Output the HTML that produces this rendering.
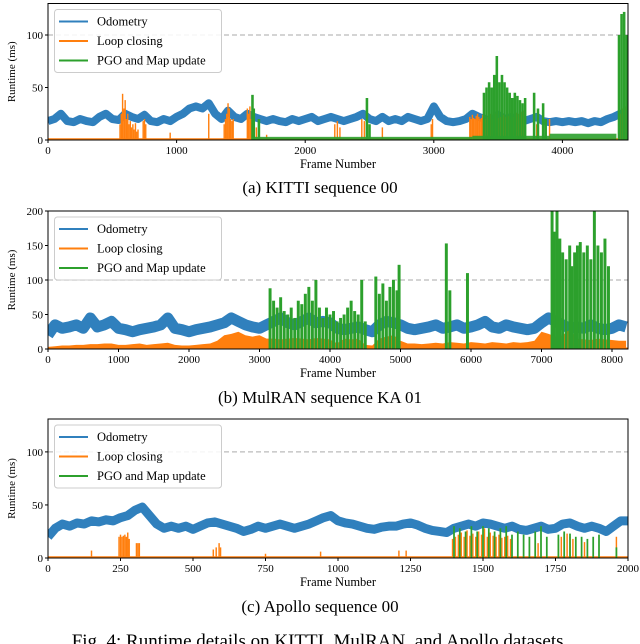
<!DOCTYPE html>
<html><head><meta charset="utf-8">
<style>
body{margin:0;background:#fff;width:640px;height:644px;overflow:hidden}
svg{display:block;font-family:"Liberation Serif",serif}
</style></head>
<body>
<svg id="fig" width="640" height="644" viewBox="0 0 640 644" xmlns="http://www.w3.org/2000/svg">
<text x="320" y="193" font-size="17" text-anchor="middle">(a) KITTI sequence 00</text>
<text x="320" y="403" font-size="17" text-anchor="middle">(b) MulRAN sequence KA 01</text>
<text x="320" y="612" font-size="17" text-anchor="middle">(c) Apollo sequence 00</text>
<text x="320" y="647" font-size="19" text-anchor="middle">Fig. 4: Runtime details on KITTI, MulRAN, and Apollo datasets.</text>
</svg>
<script>
// ---- KITTI data ----
const kittiOdoFrames = [0,50,100,150,200,250,300,350,400,450,500,550,600,650,700,750,800,850,900,950,1000,1050,1100,1150,1200,1250,1300,1350,1400,1450,1500,1550,1600,1650,1700,1750,1800,1850,1900,1950,2000,2050,2100,2150,2200,2250,2300,2350,2400,2450,2500,2550,2600,2650,2700,2750,2800,2850,2900,2950,3000,3050,3100,3150,3200,3250,3300,3350,3400,3450,3500,3550,3600,3650,3700,3750,3800,3850,3900,3950,4000,4050,4100,4150,4200,4250,4300,4350,4400,4450,4500];
const kittiOdoValues = [18,20,25,18,17,20,18,17,22,25,20,19,25,22,20,24,18,17,20,18,22,25,30,32,30,35,25,20,28,22,20,25,22,20,18,20,18,17,20,18,20,22,18,20,22,20,18,20,22,25,20,18,22,18,20,18,22,20,18,20,32,22,18,17,18,20,25,22,20,18,24,20,22,20,18,20,22,18,17,18,17,18,17,18,16,18,17,20,22,25,22];
const kittiLoopFrames = [560,570,580,590,600,610,620,630,640,650,660,670,680,690,700,740,750,760,950,1250,1370,1380,1390,1400,1410,1420,1430,1440,1550,1560,1570,1580,1600,1620,1640,1700,2230,2250,2270,2440,2460,2600,2980,2990,3280,3290,3300,3310,3320,3330,3340,3350,3360,3370,3380,3390,3400,3410,3420,3430,3440,3450,3460,3470,3480,3490,3500,3510,3520,3530,3540,3550,3560,3570,3580,3590,3600,3610,3620,3630,3640,3650,3660,3670,3680,3690,3700,3780,3800,3900,4450,4460,4470,4480,4490,4500,4510,4520,4530];
const kittiLoopValues = [15,25,44,30,38,20,25,15,18,12,15,10,16,8,10,18,20,15,7,25,15,20,25,35,30,20,18,20,30,25,32,20,15,12,12,5,15,18,12,20,18,12,15,20,22,20,24,21,20,23,25,22,20,21,24,22,20,26,22,21,25,23,20,22,25,24,21,23,22,20,24,26,22,21,23,25,20,24,22,21,26,23,25,22,27,24,28,20,15,20,25,28,30,32,32,30,31,28,25];
const kittiPgoFrames = [1590,1600,1640,2480,2500,3390,3410,3430,3450,3470,3490,3510,3530,3550,3570,3590,3610,3630,3650,3670,3690,3710,3780,3810,3850,3870,4440,4460,4480,4500,4520,4540,4550];
const kittiPgoValues = [43,30,20,40,15,45,50,55,50,62,80,55,62,55,50,45,40,45,42,38,35,40,45,30,35,20,100,120,122,100,70,75,50];
const kittiFloorFrames = [1600,3300,3900,4420];
const kittiFloorValues = [3,4,6,0];
const kittiXTicks = [0,1000,2000,3000,4000];
const kittiYTicks = [0,50,100];

// ---- MulRAN data ----
const mulranOdoFrames = [0,100,200,300,400,500,600,700,800,900,1000,1100,1200,1300,1400,1500,1600,1700,1800,1900,2000,2100,2200,2300,2400,2500,2600,2700,2800,2900,3000,3100,3200,3300,3400,3500,3600,3700,3800,3900,4000,4100,4200,4300,4400,4500,4600,4700,4800,4900,5000,5100,5200,5300,5400,5500,5600,5700,5800,5900,6000,6100,6200,6300,6400,6500,6600,6700,6800,6900,7000,7100,7200,7300,7400,7500,7600,7700,7800,7900,8000,8100,8200];
const mulranOdoValues = [20,35,30,32,35,30,45,32,35,40,30,28,25,28,30,32,35,45,30,28,25,28,30,32,35,38,45,40,35,32,30,35,40,45,38,35,40,45,38,40,38,30,28,30,32,28,25,35,40,38,35,30,28,30,32,35,30,32,35,30,32,35,40,32,30,35,32,30,28,30,38,45,40,35,30,32,30,35,30,28,30,35,32];
const mulranLoopFrames = mulranOdoFrames;
const mulranLoopValues = [3,4,5,5,6,6,7,7,8,8,6,6,7,8,6,7,8,9,6,5,5,6,7,8,12,20,22,25,20,18,20,15,15,14,15,16,15,14,16,15,14,8,15,14,15,6,5,15,18,20,12,8,8,7,8,9,8,10,9,8,10,9,8,10,9,8,10,9,10,12,25,22,18,20,28,15,14,13,15,14,13,12,12];
const mulranPgoFrames = [3150,3200,3250,3300,3350,3400,3450,3500,3550,3600,3650,3700,3750,3800,3850,3900,3950,4000,4050,4100,4150,4200,4250,4300,4350,4400,4450,4500,4650,4700,4750,4800,4850,4900,4950,4980,5650,5700,5950,7150,7180,7220,7260,7300,7350,7400,7430,7470,7510,7550,7600,7650,7700,7750,7800,7850,7900,7950];
const mulranPgoValues = [88,70,60,75,55,50,60,45,70,65,80,90,70,100,60,45,60,50,55,40,45,50,60,70,55,50,100,40,105,80,95,70,90,100,85,122,153,85,110,200,170,200,160,140,130,150,120,140,150,155,140,150,130,200,150,140,160,120];
const mulranXTicks = [0,1000,2000,3000,4000,5000,6000,7000,8000];
const mulranYTicks = [0,50,100,150,200];

// ---- Apollo data ----
const apolloOdoFrames = [0,25,50,75,100,125,150,175,200,225,250,275,300,325,350,375,400,425,450,475,500,525,550,575,600,625,650,675,700,725,750,775,800,825,850,875,900,925,950,975,1000,1025,1050,1075,1100,1125,1150,1175,1200,1225,1250,1275,1300,1325,1350,1375,1400,1425,1450,1475,1500,1525,1550,1575,1600,1625,1650,1675,1700,1725,1750,1775,1800,1825,1850,1875,1900,1925,1950,1975,2000];
const apolloOdoValues = [20,28,32,30,33,32,35,34,36,35,38,40,45,48,40,32,28,30,28,30,27,30,33,34,32,30,28,25,27,30,28,30,32,30,28,30,32,35,38,40,35,33,32,30,28,27,29,30,30,32,33,31,28,26,25,24,28,30,32,30,33,32,30,28,30,27,26,28,30,27,28,32,33,30,28,30,28,25,30,35,35];
const apolloLoopFrames = [150,245,250,255,260,265,270,275,280,305,310,315,570,580,590,595,750,940,1210,1235,1395,1405,1415,1425,1435,1445,1455,1465,1475,1485,1495,1505,1515,1525,1535,1545,1555,1565,1575,1585,1595,1680,1690,1760,1770,1780,1790,1800,1810,1850,1960];
const apolloLoopValues = [7,20,22,20,21,22,20,24,18,14,14,14,8,10,14,10,4,6,7,7,18,20,22,24,20,26,21,23,20,25,22,28,20,24,21,20,22,19,20,21,18,18,14,18,20,22,23,20,18,15,20];
const apolloPgoFrames = [1400,1420,1440,1460,1480,1500,1520,1540,1560,1580,1600,1620,1640,1660,1680,1700,1720,1760,1780,1800,1820,1840,1860,1880,1900,1960];
const apolloPgoValues = [30,28,25,30,25,30,28,25,28,30,22,25,22,20,25,30,20,22,25,23,20,20,18,20,22,10];
const apolloXTicks = [0,250,500,750,1000,1250,1500,1750,2000];
const apolloYTicks = [0,50,100];

const NS = "http://www.w3.org/2000/svg";
const svg = document.getElementById('fig');
const BLUE="#3080bd", ORANGE="#ff7f0e", GREEN="#2ca02c";

function mk(tag, attrs, parent){
  const e=document.createElementNS(NS,tag);
  for(const k in attrs) e.setAttribute(k,attrs[k]);
  (parent||svg).appendChild(e);
  return e;
}

function panel(id, top, bottom, xmax, ymax, xTicks, yTicks, odoF, odoV, odoW, loopF, loopV, loopArea, pgoF, pgoV, loopBarFrames, pgoBarFrames, floorF, floorV){
  const L=48, R=628;
  const g=mk('g',{});
  
  
  const sx=f=>L+(f/xmax)*(R-L);
  const sy=v=>bottom-(v/ymax)*(bottom-top);
  const clipId=id+'-clip';
  const cp=mk('clipPath',{id:clipId},g);
  mk('rect',{x:L,y:top,width:R-L,height:bottom-top},cp);
  const plot=mk('g',{'clip-path':'url(#'+clipId+')'},g);
  const ref=mk('line',{x1:L,x2:R,y1:sy(100),y2:sy(100),stroke:'#bbb','stroke-width':1.2,'stroke-dasharray':'5,3'},plot);
  
  
  const odo=mk('polyline',{points:odoF.map((f,i)=>sx(f)+','+sy(odoV[i])).join(' '),fill:'none',stroke:BLUE,'stroke-width':odoW,'stroke-linejoin':'round'},plot);
  
  
  mk('line',{x1:L,x2:R,y1:sy(1),y2:sy(1),stroke:ORANGE,'stroke-width':1.5},plot);
  const lbw=Math.max(1.3, sx(loopBarFrames)-sx(0));
  const pbw=Math.max(1.3, sx(pgoBarFrames)-sx(0));
  if(loopArea){
    const pts=[sx(loopF[0])+','+sy(0)].concat(loopF.map((f,i)=>sx(f)+','+sy(loopV[i]))).concat([sx(loopF[loopF.length-1])+','+sy(0)]);
    const a=mk('polygon',{points:pts.join(' '),fill:ORANGE},plot);
    
    
  } else {
    loopF.forEach((f,i)=>{
      const r=mk('rect',{x:sx(f)-lbw/2,y:sy(loopV[i]),width:lbw,height:sy(0)-sy(loopV[i]),fill:ORANGE},plot);
      
      
    });
  }
  if(floorF){
    for(let i=0;i<floorF.length-1;i++){
      mk('rect',{x:sx(floorF[i]),y:sy(floorV[i]),width:sx(floorF[i+1])-sx(floorF[i]),height:sy(0)-sy(floorV[i]),fill:GREEN,opacity:0.9},plot);
    }
  }
  pgoF.forEach((f,i)=>{
    const r=mk('rect',{x:sx(f)-pbw/2,y:sy(pgoV[i]),width:pbw,height:sy(0)-sy(pgoV[i]),fill:GREEN},plot);
    
    
  });
  mk('rect',{x:L,y:top,width:R-L,height:bottom-top,fill:'none',stroke:'#000','stroke-width':1},g);
  xTicks.forEach(t=>{
    mk('line',{x1:sx(t),x2:sx(t),y1:bottom,y2:bottom+3,stroke:'#000'},g);
    const tx=mk('text',{x:sx(t),y:bottom+14,'font-size':11,'text-anchor':'middle'},g);
    tx.textContent=t;
    
    
  });
  yTicks.forEach(t=>{
    mk('line',{x1:L-3,x2:L,y1:sy(t),y2:sy(t),stroke:'#000'},g);
    const tx=mk('text',{x:L-5,y:sy(t)+4,'font-size':11,'text-anchor':'end'},g);
    tx.textContent=t;
    
    
  });
  const xl=mk('text',{x:(L+R)/2,y:bottom+28,'font-size':12.5,'text-anchor':'middle'},g);
  xl.textContent='Frame Number';
  
  
  const yc=(top+bottom)/2;
  const yl=mk('text',{x:15,y:yc,'font-size':11,'text-anchor':'middle',transform:'rotate(-90 15 '+yc+')'},g);
  yl.textContent='Runtime (ms)';
  
  
  const lt=top+6;
  const lg=mk('g',{},g);
  
  
  mk('rect',{x:54.5,y:lt,width:167,height:63,rx:3,fill:'#fff','fill-opacity':0.85,stroke:'#ccc'},lg);
  [['Odometry',BLUE],['Loop closing',ORANGE],['PGO and Map update',GREEN]].forEach((e,i)=>{
    const yy=lt+12+i*19.5;
    mk('line',{x1:59,x2:88,y1:yy,y2:yy,stroke:e[1],'stroke-width':2},lg);
    const t=mk('text',{x:97,y:yy+4,'font-size':12.5},lg);
    t.textContent=e[0];
    
    
  });
}

panel('kitti',3.5,140,4510,130,kittiXTicks,kittiYTicks,kittiOdoFrames,kittiOdoValues,8,kittiLoopFrames,kittiLoopValues,false,kittiPgoFrames,kittiPgoValues,11,20,kittiFloorFrames,kittiFloorValues);
panel('mulran',211,349,8227,200,mulranXTicks,mulranYTicks,mulranOdoFrames,mulranOdoValues,11,mulranLoopFrames,mulranLoopValues,true,mulranPgoFrames,mulranPgoValues,22,42,null,null);
panel('apollo',419,558,2000,131,apolloXTicks,apolloYTicks,apolloOdoFrames,apolloOdoValues,9,apolloLoopFrames,apolloLoopValues,false,apolloPgoFrames,apolloPgoValues,5,6,null,null);
</script>
</body></html>
